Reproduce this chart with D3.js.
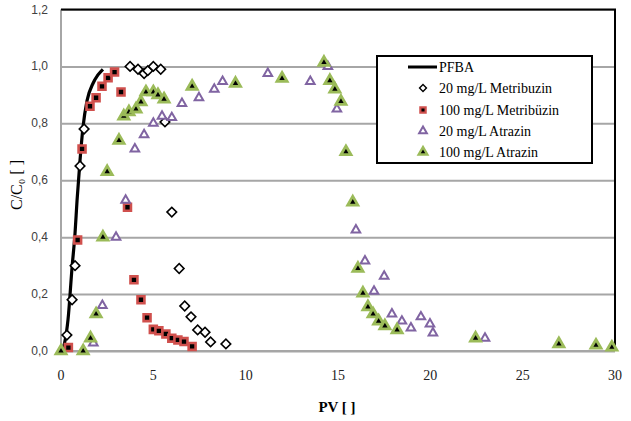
<!DOCTYPE html>
<html>
<head>
<meta charset="utf-8">
<script src="https://cdn.jsdelivr.net/npm/d3@7"></script>
<style>
  body { margin: 0; background: #fff; }
  svg { display: block; }
</style>
</head>
<body>
<svg width="631" height="421"></svg>
<script>
// PFBA tracer curve
var pfbaX = [0.05, 0.2, 0.38, 0.6, 0.76, 0.87, 1.03, 1.19, 1.41, 1.73, 2.0, 2.27];
var pfbaY = [0.0, 0.03, 0.11, 0.295, 0.414, 0.53, 0.67, 0.786, 0.88, 0.94, 0.97, 0.99];

// 20 mg/L Metribuzin
var met20X = [0.32, 0.6, 0.76, 1.03, 1.25, 3.74, 4.17, 4.5, 4.7, 5.0, 5.4, 5.63, 6.0, 6.4, 6.7, 7.04, 7.4, 7.8, 8.1, 8.93];
var met20Y = [0.056, 0.18, 0.30, 0.65, 0.78, 1.0, 0.99, 0.975, 0.985, 1.0, 0.99, 0.805, 0.488, 0.29, 0.158, 0.12, 0.074, 0.066, 0.032, 0.025];

// 100 mg/L Metribuzin
var met100X = [0.4, 0.9, 1.14, 1.57, 1.9, 2.22, 2.55, 2.9, 3.25, 3.6, 3.95, 4.33, 4.66, 5.0, 5.3, 5.68, 6.0, 6.33, 6.66, 7.1];
var met100Y = [0.012, 0.39, 0.71, 0.86, 0.89, 0.93, 0.96, 0.98, 0.91, 0.505, 0.25, 0.18, 0.117, 0.076, 0.071, 0.06, 0.045, 0.039, 0.033, 0.016];

// 20 mg/L Atrazin
var atr20X = [1.75, 2.24, 2.98, 3.5, 4.0, 4.5, 5.0, 5.47, 6.0, 6.55, 7.47, 8.3, 8.75, 11.2, 13.5, 14.45, 14.94, 15.97, 16.46, 16.95, 17.5, 17.92, 18.46, 18.95, 19.49, 19.98, 20.14, 22.96];
var atr20Y = [0.028, 0.16, 0.40, 0.53, 0.71, 0.76, 0.80, 0.825, 0.82, 0.87, 0.89, 0.92, 0.947, 0.975, 0.947, 1.0, 0.85, 0.425, 0.316, 0.21, 0.263, 0.13, 0.105, 0.081, 0.12, 0.095, 0.063, 0.045];

// 100 mg/L Atrazin
var atr100X = [0.0, 1.2, 1.6, 1.9, 2.27, 2.5, 3.14, 3.4, 3.68, 4.06, 4.33, 4.6, 5.0, 5.25, 5.58, 7.1, 9.45, 11.97, 14.24, 14.56, 14.83, 15.16, 15.43, 15.8, 16.08, 16.35, 16.62, 16.9, 17.2, 17.54, 18.2, 22.45, 26.96, 28.97, 29.83];
var atr100Y = [0.0, 0.0, 0.045, 0.13, 0.40, 0.63, 0.74, 0.825, 0.84, 0.85, 0.875, 0.91, 0.91, 0.90, 0.885, 0.93, 0.94, 0.958, 1.014, 0.95, 0.92, 0.877, 0.70, 0.523, 0.29, 0.203, 0.155, 0.13, 0.105, 0.088, 0.074, 0.045, 0.025, 0.02, 0.013];

var xTicks = [0, 5, 10, 15, 20, 25, 30];
var yTicks = [0, 0.2, 0.4, 0.6, 0.8, 1.0, 1.2];

var svg = d3.select("svg");
var pLeft = 61, pRight = 615, pTop = 9.5, pBottom = 351;

var x = d3.scaleLinear().domain([0, 30]).range([pLeft, pRight]);
var y = d3.scaleLinear().domain([0, 1.2]).range([pBottom, pTop]);

// gridlines
svg.append("g")
    .attr("transform", "translate(" + pLeft + ",0)")
    .call(d3.axisLeft(y).tickValues(yTicks).tickSize(-(pRight - pLeft)).tickFormat(""))
    .call(function(g){ g.select(".domain").remove(); })
    .selectAll("line")
    .attr("stroke", "#a6a6a6")
    .attr("stroke-width", 2);

// y tick labels
svg.append("g")
    .selectAll("text")
    .data(yTicks)
    .enter()
    .append("text")
    .attr("x", 48)
    .attr("y", function(d){ return y(d) + 4; })
    .attr("text-anchor", "end")
    .attr("font-family", "Liberation Sans, Arial, sans-serif")
    .attr("font-size", "12px")
    .attr("fill", "#404040")
    .text(function(d){ return d3.format(".1f")(d).replace(".", ","); });

// x tick labels
svg.append("g")
    .selectAll("text")
    .data(xTicks)
    .enter()
    .append("text")
    .attr("x", function(d){ return x(d); })
    .attr("y", 380)
    .attr("text-anchor", "middle")
    .attr("font-family", "Liberation Serif, Times New Roman, serif")
    .attr("font-size", "14px")
    .attr("fill", "#222")
    .text(function(d){ return d; });

// left & bottom axis lines (gray), top & right frame (black)
svg.append("line").attr("x1", pLeft).attr("x2", pLeft).attr("y1", pTop).attr("y2", pBottom)
    .attr("stroke", "#a6a6a6").attr("stroke-width", 2);
svg.append("line").attr("x1", pLeft).attr("x2", pRight).attr("y1", pBottom).attr("y2", pBottom)
    .attr("stroke", "#a6a6a6").attr("stroke-width", 2);
svg.append("line").attr("x1", pLeft).attr("x2", pRight + 1).attr("y1", pTop).attr("y2", pTop)
    .attr("stroke", "#000").attr("stroke-width", 2);
svg.append("line").attr("x1", pRight).attr("x2", pRight).attr("y1", pTop).attr("y2", pBottom)
    .attr("stroke", "#000").attr("stroke-width", 2);

// PFBA line
var line = d3.line()
    .x(function(d){ return x(d[0]); })
    .y(function(d){ return y(d[1]); })
    .curve(d3.curveMonotoneX);
svg.append("path")
    .datum(d3.zip(pfbaX, pfbaY))
    .attr("d", line)
    .attr("fill", "none")
    .attr("stroke", "#000")
    .attr("stroke-width", 3.2);

function drawMarkers(xs, ys, type, size, fill, stroke, sw, rot) {
    svg.append("g")
        .selectAll("path")
        .data(d3.zip(xs, ys))
        .enter()
        .append("path")
        .attr("d", d3.symbol().type(type).size(size))
        .attr("transform", function(d){
            return "translate(" + x(d[0]) + "," + y(d[1]) + ")" + (rot ? " rotate(" + rot + ")" : "");
        })
        .attr("fill", fill)
        .attr("stroke", stroke)
        .attr("stroke-width", sw);
}

drawMarkers(met20X, met20Y, d3.symbolSquare, 46, "#fff", "#000", 1.6, 45);
drawMarkers(met100X, met100Y, d3.symbolSquare, 48, "#000", "#d0504d", 2.6);
drawMarkers(atr20X, atr20Y, d3.symbolTriangle, 32, "#fff", "#8064a2", 2);
drawMarkers(atr100X, atr100Y, d3.symbolTriangle, 44, "#000", "#9bbb59", 2.8);

// legend
var lg = svg.append("g");
lg.append("rect")
    .attr("x", 377).attr("y", 56)
    .attr("width", 215).attr("height", 107)
    .attr("fill", "#fff")
    .attr("stroke", "#000")
    .attr("stroke-width", 2);

var legendNames = ["PFBA", "20 mg/L Metribuzin", "100 mg/L Metribüzin", "20 mg/L Atrazin", "100 mg/L Atrazin"];
var legendY = [67, 88, 110, 131, 152];

lg.append("line")
    .attr("x1", 408).attr("x2", 437)
    .attr("y1", legendY[0]).attr("y2", legendY[0])
    .attr("stroke", "#000").attr("stroke-width", 3);

var legendSym = [
    null,
    [d3.symbolSquare, 24, "#fff", "#000", 1.4, 45],
    [d3.symbolSquare, 28, "#000", "#d0504d", 2.2, 0],
    [d3.symbolTriangle, 26, "#fff", "#8064a2", 2, 0],
    [d3.symbolTriangle, 32, "#000", "#9bbb59", 2.4, 0]
];
legendSym.forEach(function(s, i){
    if (!s) return;
    lg.append("path")
        .attr("d", d3.symbol().type(s[0]).size(s[1]))
        .attr("transform", "translate(423," + legendY[i] + ") rotate(" + s[5] + ")")
        .attr("fill", s[2])
        .attr("stroke", s[3])
        .attr("stroke-width", s[4]);
});

lg.selectAll("text")
    .data(legendNames)
    .enter()
    .append("text")
    .attr("x", 439)
    .attr("y", function(d, i){ return legendY[i] + 5; })
    .attr("font-family", "Liberation Serif, Times New Roman, serif")
    .attr("font-size", "14px")
    .attr("fill", "#000")
    .text(function(d){ return d; });

// axis titles
svg.append("text")
    .attr("x", 337)
    .attr("y", 412)
    .attr("text-anchor", "middle")
    .attr("font-family", "Liberation Serif, Times New Roman, serif")
    .attr("font-size", "15px")
    .attr("font-weight", "bold")
    .text("PV [ ]");

svg.append("text")
    .attr("transform", "translate(22,185) rotate(-90)")
    .attr("text-anchor", "middle")
    .attr("font-family", "Liberation Serif, Times New Roman, serif")
    .attr("font-size", "16px")
    .attr("fill", "#000")
    .text("C/C₀ [ ]");
</script>
</body>
</html>
